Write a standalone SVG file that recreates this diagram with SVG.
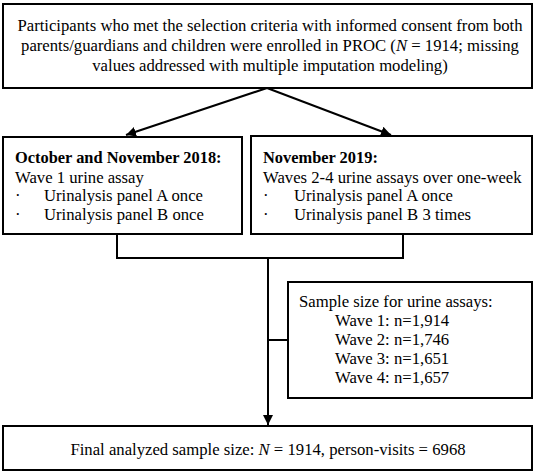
<svg xmlns="http://www.w3.org/2000/svg" width="536" height="473" viewBox="0 0 536 473">
<defs>
<marker id="ah" viewBox="0 0 10 10" refX="10" refY="5" markerWidth="5" markerHeight="5" orient="auto" markerUnits="strokeWidth">
<path d="M0,0 L10,5 L0,10 z" fill="#000"/>
</marker>
<style>
.box{fill:#fff;stroke:#000;stroke-width:2}
.t{font-family:"Liberation Serif","Times New Roman",serif;font-size:16.7px;fill:#000}
.c{text-anchor:middle}
.b{font-weight:bold;font-size:16.4px}
.ln{fill:none;stroke:#000;stroke-width:2}
</style>
</defs>
<rect width="536" height="473" fill="#fff"/>
<g id="connectors">
<line class="ln" x1="267" y1="88" x2="126" y2="135" marker-end="url(#ah)"/>
<line class="ln" x1="267" y1="88" x2="391" y2="135" marker-end="url(#ah)"/>
<polyline class="ln" points="117,234 117,258 403,258 403,234"/>
<line class="ln" x1="268" y1="258" x2="268" y2="425" marker-end="url(#ah)"/>
<line class="ln" x1="268" y1="340" x2="288" y2="340"/>
</g>
<g id="top">
<rect class="box" x="3" y="4" width="529" height="84"/>
<text class="t c" x="270" y="31">Participants who met the selection criteria with informed consent from both</text>
<text class="t c" x="270" y="51">parents/guardians and children were enrolled in PROC (<tspan font-style="italic">N</tspan> = 1914; missing</text>
<text class="t c" x="270" y="71">values addressed with multiple imputation modeling)</text>
</g>
<g id="wave1">
<rect class="box" x="3" y="137" width="239" height="97"/>
<text class="t b" x="15" y="163">October and November 2018:</text>
<text class="t" x="15" y="183">Wave 1 urine assay</text>
<text class="t" x="15" y="201">·</text>
<text class="t" x="44" y="201">Urinalysis panel A once</text>
<text class="t" x="15" y="220">·</text>
<text class="t" x="44" y="220">Urinalysis panel B once</text>
</g>
<g id="wave2">
<rect class="box" x="251" y="136" width="281" height="98"/>
<text class="t b" x="263" y="163">November 2019:</text>
<text class="t" x="263" y="183">Waves 2-4 urine assays over one-week</text>
<text class="t" x="263" y="201">·</text>
<text class="t" x="294" y="201">Urinalysis panel A once</text>
<text class="t" x="263" y="220">·</text>
<text class="t" x="294" y="220">Urinalysis panel B 3 times</text>
</g>
<g id="sample">
<rect class="box" x="288" y="282" width="244" height="116"/>
<text class="t" x="299" y="307">Sample size for urine assays:</text>
<text class="t" x="335" y="326">Wave 1: n=1,914</text>
<text class="t" x="335" y="345">Wave 2: n=1,746</text>
<text class="t" x="335" y="364">Wave 3: n=1,651</text>
<text class="t" x="335" y="383">Wave 4: n=1,657</text>
</g>
<g id="final">
<rect class="box" x="3" y="426" width="529" height="44"/>
<text class="t c" x="268" y="455">Final analyzed sample size: <tspan font-style="italic">N</tspan> = 1914, person-visits = 6968</text>
</g>
</svg>
